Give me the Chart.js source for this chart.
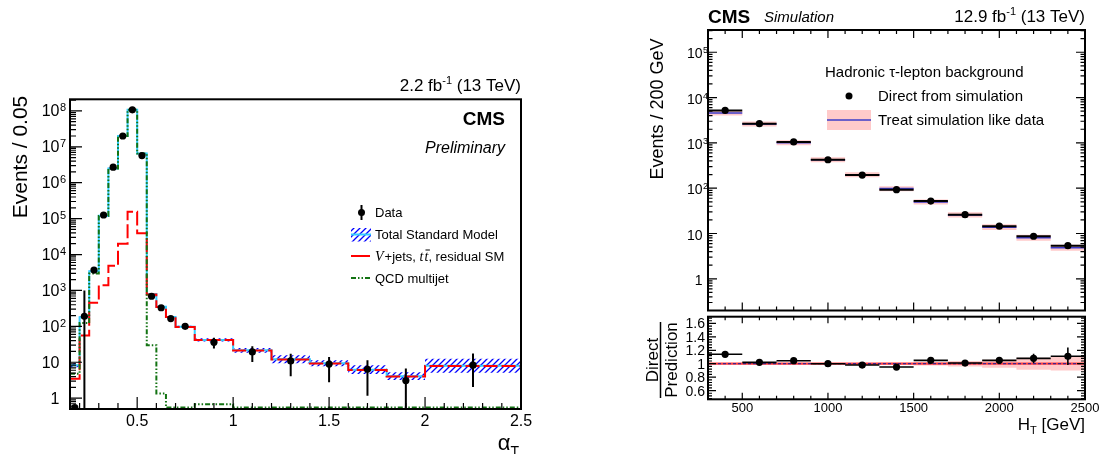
<!DOCTYPE html>
<html>
<head>
<meta charset="utf-8">
<script src="https://cdn.jsdelivr.net/npm/chart.js@4.4.0/dist/chart.umd.min.js"></script>
<style>
html, body { margin: 0; padding: 0; background: #fff; }
#wrap { position: relative; width: 1103px; height: 454px; }
#wrap canvas { position: absolute; left: 0; top: 0; }
</style>
</head>
<body>
<div id="wrap">
  <canvas id="leftChart" width="1103" height="454"></canvas>
  <canvas id="upperChart" width="1103" height="454"></canvas>
  <canvas id="ratioChart" width="1103" height="454"></canvas>
</div>
<script>
// ---- left panel: alpha_T distribution ----
const atEdges = [0.15, 0.2, 0.25, 0.3, 0.35, 0.4, 0.45, 0.5, 0.55, 0.6, 0.65, 0.7, 0.8, 1.0, 1.2, 1.4, 1.6, 1.8, 2.0, 2.5];
const atCenters = [0.175, 0.225, 0.275, 0.325, 0.375, 0.425, 0.475, 0.525, 0.575, 0.625, 0.675, 0.75, 0.9, 1.1, 1.3, 1.5, 1.7, 1.9, 2.25];
const dataCounts = [0.55, 190, 3700, 1.26e5, 2.7e6, 2.0e7, 1.07e8, 5.7e6, 690, 330, 165, 100, 36, 19.4, 10.9, 8.9, 6.4, 3.1, 8.3];
const dataUp = [0.55, 1000, 4000, 1.3e5, 2.75e6, 2.05e7, 1.08e8, 5.8e6, 730, 360, 185, 112, 48, 28, 17.4, 14, 11.4, 6.7, 17.5];
const dataDown = [0.55, 0.3, 3400, 1.22e5, 2.65e6, 1.95e7, 1.06e8, 5.6e6, 650, 300, 145, 88, 24, 10.2, 4.1, 2.8, 1.16, 0.3, 2.06];
const totalSM = [8.3, 180, 3400, 1.2e5, 2.5e6, 2.0e7, 1.07e8, 6.5e6, 800, 350, 183, 97, 42, 21.5, 12.1, 9.4, 6.2, 4.1, 8.0];
const totalHi = [9.5, 190, 3550, 1.25e5, 2.6e6, 2.08e7, 1.1e8, 6.8e6, 840, 370, 195, 104, 46.6, 25, 15.6, 11.4, 8.2, 5.3, 12.5];
const totalLo = [7.3, 170, 3250, 1.15e5, 2.4e6, 1.92e7, 1.04e8, 6.2e6, 760, 330, 172, 90, 37.8, 18.4, 9.4, 7.8, 4.7, 3.2, 5.1];
const vjets = [3.5, 56, 455, 1400, 4900, 2.0e4, 1.56e5, 3.9e4, 770, 348, 182, 96, 41.5, 21.3, 12, 9.3, 6.1, 4.0, 7.9];
const qcd = [4.8, 124, 2950, 1.19e5, 2.5e6, 2.0e7, 1.07e8, 6.5e6, 30, 1.35, 0.55, 0.55, 0.68, 0.55, 0.55, 0.55, 0.55, 0.55, 0.55];
const atTicks = [0.5, 1, 1.5, 2, 2.5];
const atTickLabels = ['0.5', '1', '1.5', '2', '2.5'];
const leftYTicks = [1, 10, 1e2, 1e3, 1e4, 1e5, 1e6, 1e7, 1e8];
const leftYLabels = ['1', '10', '10^2', '10^3', '10^4', '10^5', '10^6', '10^7', '10^8'];

// ---- right panel: H_T, hadronic tau background ----
const htEdges = [300, 500, 700, 900, 1100, 1300, 1500, 1700, 1900, 2100, 2300, 2500];
const htCenters = [400, 600, 800, 1000, 1200, 1400, 1600, 1800, 2000, 2200, 2400];
const direct = [5200, 2650, 1050, 425, 195, 93, 52, 26, 14.5, 8.7, 5.4];
const directErr = [70, 45, 22, 10, 5, 3, 1.8, 1.1, 0.75, 0.6, 0.7];
const prediction = [4560, 2600, 1005, 425, 199, 98, 49.5, 25.7, 13.8, 8.05, 4.86];
const predHi = [5175, 2950, 1140, 482, 226, 111, 56.5, 29.5, 16, 9.4, 5.66];
const predLo = [4020, 2290, 885, 374, 175, 86, 43.5, 22.5, 12, 6.9, 4.17];
const ratio = [1.14, 1.02, 1.045, 1.0, 0.98, 0.95, 1.05, 1.01, 1.05, 1.08, 1.11];
const ratioErr = [0.02, 0.02, 0.02, 0.02, 0.02, 0.025, 0.03, 0.035, 0.05, 0.07, 0.13];
const ratioBandHi = [1.012, 1.012, 1.012, 1.012, 1.012, 1.015, 1.025, 1.04, 1.06, 1.09, 1.1];
const ratioBandLo = [0.988, 0.988, 0.988, 0.988, 0.988, 0.985, 0.975, 0.96, 0.94, 0.91, 0.9];
const ratioRef = 1;
const htTicks = [500, 1000, 1500, 2000, 2500];
const htTickLabels = ['500', '1000', '1500', '2000', '2500'];
const upperYTicks = [1, 10, 1e2, 1e3, 1e4, 1e5];
const upperYLabels = ['1', '10', '10^2', '10^3', '10^4', '10^5'];
const ratioYTicks = [0.6, 0.8, 1, 1.2, 1.4, 1.6];
const ratioYLabels = ['0.6', '0.8', '1', '1.2', '1.4', '1.6'];

const F = '"Liberation Sans", Arial, Helvetica, sans-serif';
const FS = '"Liberation Serif", "Times New Roman", serif';
const CYAN = '#33ccff';
const GREEN = '#137313';
const PINK = '#ffcaca';
const BLUE = '#3c3cc8';
const QCD_DASH = [5, 2, 1.5, 2, 1.5, 2];

function steps(edges, vals) {
    const pts = vals.map((v, i) => ({ x: edges[i], y: v }));
    pts.push({ x: edges[edges.length - 1], y: vals[vals.length - 1] });
    return pts;
}

function segments(edges, vals) {
    const pts = [];
    vals.forEach((v, i) => {
        pts.push({ x: edges[i], y: v }, { x: edges[i + 1], y: v }, { x: edges[i + 1], y: null });
    });
    return pts;
}

function logMinors(lo, hi) {
    const out = [];
    for (let d = Math.floor(Math.log10(lo)); d <= Math.ceil(Math.log10(hi)); d++) {
        for (let k = 2; k <= 9; k++) {
            const v = k * Math.pow(10, d);
            if (v >= lo && v <= hi) out.push(v);
        }
    }
    return out;
}

function linMinors(lo, hi, step, majors) {
    const out = [];
    const n = Math.round((hi - lo) / step);
    for (let i = 0; i <= n; i++) {
        const v = lo + i * step;
        if (!majors.some(m => Math.abs(m - v) < step / 10)) out.push(v);
    }
    return out;
}

function hatch(color) {
    const c = document.createElement('canvas');
    c.width = 6; c.height = 6;
    const g = c.getContext('2d');
    g.strokeStyle = color;
    g.lineWidth = 1.3;
    g.beginPath();
    g.moveTo(0, 6); g.lineTo(6, 0);
    g.moveTo(-1, 1); g.lineTo(1, -1);
    g.moveTo(5, 7); g.lineTo(7, 5);
    g.stroke();
    return g.createPattern(c, 'repeat');
}

function rich(ctx, parts, x, y, align) {
    let w = 0;
    parts.forEach(p => { ctx.font = p[1]; w += ctx.measureText(p[0]).width; });
    let cx = align === 'right' ? x - w : (align === 'center' ? x - w / 2 : x);
    ctx.textAlign = 'left';
    ctx.textBaseline = 'alphabetic';
    parts.forEach(p => {
        ctx.font = p[1];
        ctx.fillText(p[0], cx, y + (p[2] || 0));
        cx += ctx.measureText(p[0]).width;
    });
}

function vText(ctx, text, font, x, y) {
    ctx.save();
    ctx.translate(x, y);
    ctx.rotate(-Math.PI / 2);
    ctx.font = font;
    ctx.textAlign = 'center';
    ctx.textBaseline = 'alphabetic';
    ctx.fillText(text, 0, 0);
    ctx.restore();
}

// ROOT-like frame with inward ticks, drawn through the chart scales
function rootAxes(c) {
    return {
        id: 'rootAxes',
        afterDraw(chart) {
            const ctx = chart.ctx, a = chart.chartArea;
            const xs = chart.scales.x, ys = chart.scales.y;
            ctx.save();
            ctx.strokeStyle = '#000';
            ctx.lineWidth = 1.2;
            ctx.beginPath();
            const xTick = (v, len) => {
                const px = xs.getPixelForValue(v);
                ctx.moveTo(px, a.bottom); ctx.lineTo(px, a.bottom - len);
                if (c.mirror) { ctx.moveTo(px, a.top); ctx.lineTo(px, a.top + len); }
            };
            const yTick = (v, len) => {
                const py = ys.getPixelForValue(v);
                ctx.moveTo(a.left, py); ctx.lineTo(a.left + len, py);
                if (c.mirror) { ctx.moveTo(a.right, py); ctx.lineTo(a.right - len, py); }
            };
            c.xMajor.forEach(v => xTick(v, c.xLen[0]));
            c.xMinor.forEach(v => xTick(v, c.xLen[1]));
            c.yMajor.forEach(v => yTick(v, c.yLen[0]));
            c.yMinor.forEach(v => yTick(v, c.yLen[1]));
            ctx.stroke();
            ctx.lineWidth = 2;
            ctx.strokeRect(a.left, a.top, a.right - a.left, a.bottom - a.top);

            ctx.fillStyle = '#000';
            ctx.textBaseline = 'alphabetic';
            if (c.xLabels) {
                ctx.font = c.xFont;
                ctx.textAlign = 'center';
                c.xMajor.forEach((v, i) => ctx.fillText(c.xLabels[i], xs.getPixelForValue(v), c.xBase));
            }
            if (c.yLabels) {
                c.yMajor.forEach((v, i) => {
                    const py = ys.getPixelForValue(v);
                    const [b, s] = c.yLabels[i].split('^');
                    ctx.font = c.yFont;
                    ctx.textAlign = 'right';
                    ctx.fillText(b, c.yRight, py + c.yOff);
                    if (s) {
                        ctx.font = c.ySupFont;
                        ctx.textAlign = 'left';
                        ctx.fillText(s, c.yRight + 0.5, py + c.ySupOff);
                    }
                });
            }
            ctx.restore();
        }
    };
}

function errorBars(bars, width) {
    return {
        id: 'errorBars',
        afterDatasetsDraw(chart) {
            const ctx = chart.ctx, a = chart.chartArea;
            const xs = chart.scales.x, ys = chart.scales.y;
            ctx.save();
            ctx.beginPath();
            ctx.rect(a.left, a.top, a.right - a.left, a.bottom - a.top);
            ctx.clip();
            ctx.strokeStyle = '#000';
            ctx.lineWidth = width;
            ctx.beginPath();
            bars.forEach(b => {
                const px = xs.getPixelForValue(b.x);
                if (b.x0 !== undefined) {
                    const py = ys.getPixelForValue(b.y);
                    ctx.moveTo(xs.getPixelForValue(b.x0), py);
                    ctx.lineTo(xs.getPixelForValue(b.x1), py);
                }
                ctx.moveTo(px, ys.getPixelForValue(b.lo));
                ctx.lineTo(px, ys.getPixelForValue(b.hi));
            });
            ctx.stroke();
            ctx.restore();
        }
    };
}

const baseOptions = (padding, xScale, yScale) => ({
    responsive: false,
    animation: false,
    devicePixelRatio: 1,
    layout: { padding: padding },
    scales: { x: xScale, y: yScale },
    plugins: { legend: { display: false }, tooltip: { enabled: false } }
});

// ---------------- left chart ----------------
const leftText = {
    id: 'leftText',
    afterDraw(chart) {
        const ctx = chart.ctx;
        ctx.save();
        ctx.fillStyle = '#000';
        vText(ctx, 'Events / 0.05', '21px ' + F, 27, 157);
        rich(ctx, [['2.2 fb', '17px ' + F], ['-1', '11px ' + F, -7], [' (13 TeV)', '17px ' + F]], 521, 91, 'right');
        rich(ctx, [['CMS', 'bold 19px ' + F]], 505, 125, 'right');
        rich(ctx, [['Preliminary', 'italic 16px ' + F]], 505, 153, 'right');
        rich(ctx, [['\u03b1', '22px ' + F], ['T', '14px ' + F, 6]], 519, 450, 'right');

        // legend
        ctx.fillStyle = '#000';
        ctx.beginPath(); ctx.arc(361.5, 212.5, 3.5, 0, Math.PI * 2); ctx.fill();
        ctx.strokeStyle = '#000'; ctx.lineWidth = 2;
        ctx.beginPath(); ctx.moveTo(361.5, 205); ctx.lineTo(361.5, 220); ctx.stroke();

        ctx.fillStyle = hatch('#0000ff');
        ctx.fillRect(351, 228, 20, 13.5);
        ctx.strokeStyle = CYAN; ctx.lineWidth = 2;
        ctx.beginPath(); ctx.moveTo(351, 234.5); ctx.lineTo(371, 234.5); ctx.stroke();

        ctx.strokeStyle = '#ff0000';
        ctx.beginPath(); ctx.moveTo(351, 256); ctx.lineTo(370, 256); ctx.stroke();

        ctx.strokeStyle = GREEN; ctx.setLineDash(QCD_DASH);
        ctx.beginPath(); ctx.moveTo(351, 278); ctx.lineTo(370, 278); ctx.stroke();
        ctx.setLineDash([]);

        ctx.fillStyle = '#000';
        rich(ctx, [['Data', '13px ' + F]], 375, 217, 'left');
        rich(ctx, [['Total Standard Model', '13px ' + F]], 375, 239, 'left');
        rich(ctx, [['QCD multijet', '13px ' + F]], 375, 283, 'left');
        // V+jets, t tbar, residual SM
        let x = 375;
        const y = 261;
        ctx.textAlign = 'left';
        ctx.font = 'italic 14px ' + FS; ctx.fillText('V', x, y); x += ctx.measureText('V').width + 1;
        ctx.font = '13px ' + F; ctx.fillText('+jets, ', x, y); x += ctx.measureText('+jets, ').width;
        ctx.font = 'italic 14px ' + FS; ctx.fillText('t', x, y); x += ctx.measureText('t').width + 1;
        const tw = ctx.measureText('t').width;
        ctx.fillText('t', x, y);
        ctx.lineWidth = 1; ctx.strokeStyle = '#000';
        ctx.beginPath(); ctx.moveTo(x + 1, y - 11); ctx.lineTo(x + tw + 1.5, y - 11); ctx.stroke();
        x += tw;
        ctx.font = '13px ' + F; ctx.fillText(', residual SM', x, y);
        ctx.restore();
    }
};

const dataBars = atCenters.map((x, i) => ({ x: x, lo: dataDown[i], hi: dataUp[i] }));

new Chart(document.getElementById('leftChart'), {
    type: 'line',
    data: {
        datasets: [
            { data: atCenters.map((x, i) => ({ x: x, y: dataCounts[i] })), showLine: false,
              pointRadius: 3.6, pointBackgroundColor: '#000', pointBorderWidth: 0 },
            { data: steps(atEdges, qcd), borderColor: GREEN, borderWidth: 2, borderDash: QCD_DASH,
              stepped: true, pointRadius: 0 },
            { data: steps(atEdges, vjets), borderColor: '#ff0000', borderWidth: 2, borderDash: [14, 4],
              stepped: true, pointRadius: 0 },
            { data: steps(atEdges, totalSM), borderColor: CYAN, borderWidth: 2, stepped: true, pointRadius: 0 },
            { data: steps(atEdges, totalHi), borderWidth: 0, stepped: true, pointRadius: 0,
              fill: '+1', backgroundColor: hatch('#0000ff') },
            { data: steps(atEdges, totalLo), borderWidth: 0, stepped: true, pointRadius: 0 }
        ]
    },
    options: baseOptions(
        { left: 70, top: 99.3, right: 1103 - 521, bottom: 454 - 409 },
        { type: 'linear', min: 0.15, max: 2.5, display: false },
        { type: 'logarithmic', min: 0.5, max: 2.1e8, display: false }
    ),
    plugins: [
        rootAxes({
            xMajor: atTicks, xMinor: linMinors(0.2, 2.4, 0.1, atTicks), xLen: [12, 6],
            yMajor: leftYTicks, yMinor: logMinors(0.5, 2.1e8), yLen: [12, 6], mirror: false,
            xLabels: atTickLabels, xFont: '16px ' + F, xBase: 426,
            yLabels: leftYLabels, yFont: '16px ' + F, ySupFont: '11px ' + F, yRight: 59.5, yOff: 5.5, ySupOff: 0.5
        }),
        errorBars(dataBars, 2),
        leftText
    ]
});

// ---------------- right upper chart ----------------
const upperText = {
    id: 'upperText',
    afterDraw(chart) {
        const ctx = chart.ctx;
        ctx.save();
        ctx.fillStyle = '#000';
        rich(ctx, [['CMS', 'bold 19px ' + F]], 708, 23, 'left');
        rich(ctx, [['Simulation', 'italic 15px ' + F]], 764, 22, 'left');
        rich(ctx, [['12.9 fb', '17px ' + F], ['-1', '11px ' + F, -7], [' (13 TeV)', '17px ' + F]], 1085, 22, 'right');
        vText(ctx, 'Events / 200 GeV', '18px ' + F, 663, 109);

        rich(ctx, [['Hadronic \u03c4-lepton background', '15px ' + F]], 825, 77, 'left');
        ctx.beginPath(); ctx.arc(849, 96, 3.5, 0, Math.PI * 2); ctx.fill();
        rich(ctx, [['Direct from simulation', '15px ' + F]], 878, 101, 'left');
        ctx.fillStyle = PINK;
        ctx.fillRect(827, 110, 44, 20);
        ctx.strokeStyle = BLUE; ctx.lineWidth = 1.5;
        ctx.beginPath(); ctx.moveTo(827, 120); ctx.lineTo(871, 120); ctx.stroke();
        ctx.fillStyle = '#000';
        rich(ctx, [['Treat simulation like data', '15px ' + F]], 878, 125, 'left');
        ctx.restore();
    }
};

const directBars = htCenters.map((x, i) => ({
    x: x, y: direct[i], x0: htEdges[i], x1: htEdges[i + 1], lo: direct[i] - directErr[i], hi: direct[i] + directErr[i]
}));

new Chart(document.getElementById('upperChart'), {
    type: 'line',
    data: {
        datasets: [
            { data: htCenters.map((x, i) => ({ x: x, y: direct[i] })), showLine: false,
              pointRadius: 3.6, pointBackgroundColor: '#000', pointBorderWidth: 0 },
            { data: segments(htEdges, prediction), borderColor: BLUE, borderWidth: 1.5, pointRadius: 0, spanGaps: false },
            { data: steps(htEdges, predHi), borderWidth: 0, stepped: true, pointRadius: 0,
              fill: '+1', backgroundColor: PINK },
            { data: steps(htEdges, predLo), borderWidth: 0, stepped: true, pointRadius: 0 }
        ]
    },
    options: baseOptions(
        { left: 708, top: 30, right: 1103 - 1085, bottom: 454 - 310.5 },
        { type: 'linear', min: 300, max: 2500, display: false },
        { type: 'logarithmic', min: 0.2, max: 3.1e5, display: false }
    ),
    plugins: [
        rootAxes({
            xMajor: htTicks, xMinor: linMinors(300, 2400, 100, htTicks), xLen: [8, 4],
            yMajor: upperYTicks, yMinor: logMinors(0.2, 3.1e5), yLen: [9, 4.5], mirror: true,
            xLabels: null,
            yLabels: upperYLabels, yFont: '14px ' + F, ySupFont: '9px ' + F, yRight: 702.5, yOff: 6, ySupOff: 1
        }),
        errorBars(directBars, 2),
        upperText
    ]
});

// ---------------- right ratio chart ----------------
const ratioText = {
    id: 'ratioText',
    afterDraw(chart) {
        const ctx = chart.ctx;
        ctx.save();
        ctx.fillStyle = '#000';
        vText(ctx, 'Direct', '17px ' + F, 658, 360);
        vText(ctx, 'Prediction', '17px ' + F, 676.5, 360);
        ctx.strokeStyle = '#000'; ctx.lineWidth = 1.5;
        ctx.beginPath(); ctx.moveTo(660.5, 322); ctx.lineTo(660.5, 398); ctx.stroke();
        rich(ctx, [['H', '17px ' + F], ['T', '11px ' + F, 4], [' [GeV]', '17px ' + F]], 1085, 430, 'right');
        ctx.restore();
    }
};

const ratioBars = htCenters.map((x, i) => ({
    x: x, y: ratio[i], x0: htEdges[i], x1: htEdges[i + 1], lo: ratio[i] - ratioErr[i], hi: ratio[i] + ratioErr[i]
}));

new Chart(document.getElementById('ratioChart'), {
    type: 'line',
    data: {
        datasets: [
            { data: htCenters.map((x, i) => ({ x: x, y: ratio[i] })), showLine: false,
              pointRadius: 3.6, pointBackgroundColor: '#000', pointBorderWidth: 0 },
            { data: [{ x: 300, y: ratioRef }, { x: 2500, y: ratioRef }], borderColor: '#1a1aa0', borderWidth: 1,
              borderDash: [3, 2], pointRadius: 0 },
            { data: [{ x: 300, y: ratioRef }, { x: 2500, y: ratioRef }], borderColor: '#ff4040', borderWidth: 2.2, pointRadius: 0 },
            { data: steps(htEdges, ratioBandHi), borderWidth: 0, stepped: true, pointRadius: 0,
              fill: '+1', backgroundColor: PINK },
            { data: steps(htEdges, ratioBandLo), borderWidth: 0, stepped: true, pointRadius: 0 }
        ]
    },
    options: baseOptions(
        { left: 708, top: 316.7, right: 1103 - 1085, bottom: 454 - 399.3 },
        { type: 'linear', min: 300, max: 2500, display: false },
        { type: 'linear', min: 0.47, max: 1.7, display: false }
    ),
    plugins: [
        rootAxes({
            xMajor: htTicks, xMinor: linMinors(300, 2400, 100, htTicks), xLen: [6.5, 3.5],
            yMajor: ratioYTicks, yMinor: linMinors(0.48, 1.68, 0.04, ratioYTicks), yLen: [8, 4], mirror: true,
            xLabels: htTickLabels, xFont: '13px ' + F, xBase: 412,
            yLabels: ratioYLabels, yFont: '14px ' + F, ySupFont: '9px ' + F, yRight: 705, yOff: 5, ySupOff: 0
        }),
        errorBars(ratioBars, 1.6),
        ratioText
    ]
});
</script>
</body>
</html>
